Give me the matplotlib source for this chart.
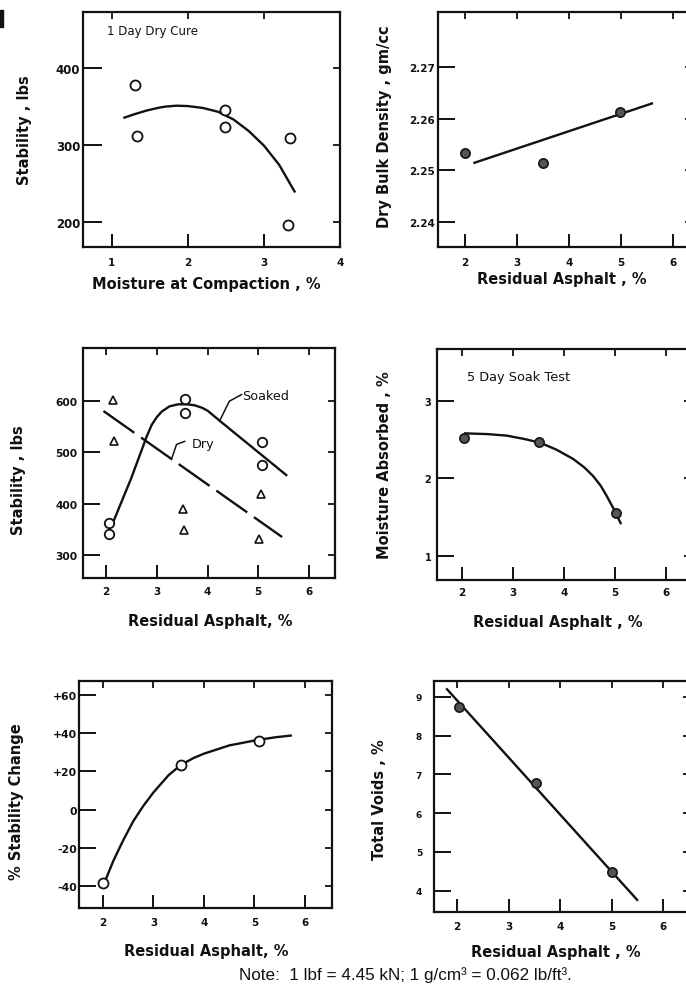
import matplotlib
matplotlib.use("Agg")
import matplotlib.pyplot as plt
from matplotlib.patches import Rectangle

plt.rcParams['font.family'] = ['DejaVu Sans']

W, H = 686, 987

# ---------------- data ----------------
# Panel 1: 1 Day Dry Cure
p1_x = [1.30, 1.33, 2.49, 2.49, 3.34, 3.32]
p1_y = [378, 311, 346, 323, 309, 196]
p1_cx = [1.15, 1.3, 1.45, 1.6, 1.7, 1.85, 2.0, 2.2, 2.4, 2.6, 2.8, 3.0, 3.2, 3.41]
p1_cy = [335, 340, 344.5, 348, 349.8, 351, 350.5, 348, 343, 333, 318, 299, 274, 238]
p1_xticks = [1, 2, 3, 4]
p1_yticks = [200, 300, 400]

# Panel 2: dry bulk density
p2_x = [2.0, 3.51, 4.98]
p2_y = [2.2534, 2.2515, 2.2613]
p2_lx = [2.16, 5.62]
p2_ly = [2.2514, 2.2630]
p2_xticks = [2, 3, 4, 5, 6]
p2_yticks = [2.24, 2.25, 2.26, 2.27]
p2_ylabels = ['2.24', '2.25', '2.26', '2.27']

# Panel 3: stability soaked / dry
p3_soak_x = [2.05, 2.05, 3.56, 3.56, 5.08, 5.08]
p3_soak_y = [362, 341, 603, 576, 520, 475]
p3_dry_x = [2.14, 2.16, 3.52, 3.53, 5.05, 5.02]
p3_dry_y = [601, 522, 389, 349, 418, 331]
p3_soak_cx = [2.1, 2.5, 2.8, 2.9, 3.0, 3.1, 3.25, 3.42, 3.6, 3.75, 3.9, 4.01, 4.24, 5.57]
p3_soak_cy = [354, 450, 530, 553, 568, 579, 589, 593, 593, 591, 586, 580, 561, 454]
p3_dry_lx = [1.95, 5.47]
p3_dry_ly = [580, 335]
p3_xticks = [2, 3, 4, 5, 6]
p3_yticks = [300, 400, 500, 600]

# Panel 4: moisture absorbed
p4_x = [2.03, 3.51, 5.02]
p4_y = [2.52, 2.47, 1.55]
p4_cx = [2.04, 2.5, 2.88, 3.2, 3.53, 3.85, 4.18, 4.4, 4.57, 4.72, 4.84, 4.98, 5.12]
p4_cy = [2.58, 2.57, 2.55, 2.51, 2.46, 2.37, 2.25, 2.14, 2.03, 1.905, 1.77, 1.60, 1.41]
p4_xticks = [2, 3, 4, 5, 6]
p4_yticks = [1, 2, 3]

# Panel 5: % stability change
p5_x = [2.0, 3.54, 5.08]
p5_y = [-38, 23.2, 36]
p5_cx = [2.0, 2.2, 2.4, 2.6, 2.8, 3.0, 3.3, 3.55, 3.8, 4.0, 4.5, 5.05, 5.4, 5.74]
p5_cy = [-40, -27, -16, -6, 2, 9, 18, 23.5, 27, 29.2, 33.5, 36.3, 37.7, 38.7]
p5_xticks = [2, 3, 4, 5, 6]
p5_yticks = [-40, -20, 0, 20, 40, 60]
p5_ylabels = ['-40', '-20', '0', '+20', '+40', '+60']

# Panel 6: total voids
p6_x = [2.04, 3.53, 5.0]
p6_y = [8.73, 6.78, 4.49]
p6_lx = [1.79, 5.51]
p6_ly = [9.22, 3.74]
p6_xticks = [2, 3, 4, 5, 6]
p6_yticks = [4, 5, 6, 7, 8, 9]

LABEL_FS = 10.5
INK = '#111111'

fig = plt.figure(figsize=(W / 100, H / 100), dpi=100)
fig.patch.set_facecolor('white')


def make_ax(l, t, r, b, xlim, ylim, xticks, yticks, ylabels=None,
            ytick_fs=8, xtick_fs=7.5, ypad=2, xpad=6, ylen=12):
    ax = fig.add_axes([l / W, 1 - b / H, (r - l) / W, (b - t) / H])
    ax.set_xlim(*xlim)
    ax.set_ylim(*ylim)
    ax.set_xticks(xticks)
    ax.set_yticks(yticks)
    if ylabels is not None:
        ax.set_yticklabels(ylabels)
    for s in ax.spines.values():
        s.set_linewidth(1.6)
        s.set_color(INK)
    ax.tick_params(axis='y', direction='in', length=ylen, width=1.4,
                   left=True, right=False, pad=ypad, labelsize=ytick_fs,
                   colors=INK)
    ax.tick_params(axis='x', direction='in', length=9.5, width=1.4,
                   bottom=True, top=False, pad=xpad, labelsize=xtick_fs,
                   colors=INK)
    for lab in ax.get_xticklabels() + ax.get_yticklabels():
        lab.set_fontweight('bold')
    sx = ax.secondary_xaxis('top')
    sx.set_xticks(xticks)
    sx.tick_params(direction='in', length=5, width=1.3, labeltop=False,
                   colors=INK)
    sx.spines['top'].set_visible(False)
    sy = ax.secondary_yaxis('right')
    sy.set_yticks(yticks)
    sy.tick_params(direction='in', length=5, width=1.3, labelright=False,
                   colors=INK)
    sy.spines['right'].set_visible(False)
    return ax


def labels(ax, xl, xc, yl, yc):
    ax.set_xlabel(xl, fontsize=LABEL_FS, fontweight='bold', va='center',
                  color=INK)
    ax.xaxis.set_label_coords(xc[0] / W, 1 - xc[1] / H,
                              transform=fig.transFigure)
    ax.set_ylabel(yl, fontsize=LABEL_FS, fontweight='bold', va='center',
                  color=INK)
    ax.yaxis.set_label_coords(yc[0] / W, 1 - yc[1] / H,
                              transform=fig.transFigure)


open_kw = dict(linestyle='none', marker='o', markersize=7.2,
               markerfacecolor='white', markeredgecolor=INK,
               markeredgewidth=1.3, zorder=3)
fill_kw = dict(linestyle='none', marker='o', markersize=6.6,
               markerfacecolor='#555555', markeredgecolor='#1a1a1a',
               markeredgewidth=1.3, zorder=3)
curve_kw = dict(color=INK, linewidth=1.7, solid_capstyle='butt',
                solid_joinstyle='round', zorder=2)

# ---- Panel 1 ----
ax1 = make_ax(83, 13, 340, 248, (0.62, 4.0), (167, 473), p1_xticks, p1_yticks,
              ytick_fs=8.5, ypad=2, xpad=7, ylen=14)
ax1.plot(p1_cx, p1_cy, **curve_kw)
ax1.plot(p1_x, p1_y, **open_kw)
ax1.text(107 / W, 1 - 32 / H, '1 Day Dry Cure', transform=fig.transFigure,
         fontsize=8.5, va='center', ha='left', color=INK)
labels(ax1, 'Moisture at Compaction , %', (206, 285), 'Stability , lbs', (25, 130))

# ---- Panel 2 ----
ax2 = make_ax(438, 13, 692, 248, (1.48, 6.37), (2.2352, 2.2806), p2_xticks,
              p2_yticks, ylabels=p2_ylabels, ytick_fs=7.5, ypad=2, xpad=7)
ax2.plot(p2_lx, p2_ly, **curve_kw)
ax2.plot(p2_x, p2_y, **fill_kw)
labels(ax2, 'Residual Asphalt , %', (562, 280), 'Dry Bulk Density , gm/cc', (385, 127))

# ---- Panel 3 ----
ax3 = make_ax(83, 349, 335, 579, (1.547, 6.512), (255.3, 702.5), p3_xticks,
              p3_yticks, ytick_fs=7.7, ypad=4, xpad=5.5)
ax3.plot(p3_soak_cx, p3_soak_cy, **curve_kw)
ax3.plot(p3_dry_lx, p3_dry_ly, color=INK, linewidth=1.7,
         linestyle=(0, (16, 3.5)), zorder=2)
ax3.plot(p3_soak_x, p3_soak_y, **dict(open_kw, markersize=6.8))
ax3.plot(p3_dry_x, p3_dry_y, linestyle='none', marker='^', markersize=6.2,
         markerfacecolor='white', markeredgecolor=INK, markeredgewidth=1.2,
         zorder=3)
# leader lines and labels
ax3.plot([4.24, 4.43, 4.67], [561, 599, 612], color=INK, linewidth=1.1)
ax3.text(4.69, 610, 'Soaked', fontsize=9.2, va='center', ha='left', color=INK)
ax3.plot([3.29, 3.39, 3.55], [486, 515, 521], color=INK, linewidth=1.1)
ax3.text(3.68, 516, 'Dry', fontsize=9.2, va='center', ha='left', color=INK)
labels(ax3, 'Residual Asphalt, %', (210, 622), 'Stability , lbs', (19, 480))

# ---- Panel 4 ----
ax4 = make_ax(437, 350, 691, 581, (1.51, 6.49), (0.691, 3.666), p4_xticks,
              p4_yticks, ytick_fs=7, ypad=4, xpad=5)
ax4.plot(p4_cx, p4_cy, **curve_kw)
ax4.plot(p4_x, p4_y, **fill_kw)
ax4.text(467 / W, 1 - 378 / H, '5 Day Soak Test', transform=fig.transFigure,
         fontsize=9.3, va='center', ha='left', color=INK)
labels(ax4, 'Residual Asphalt , %', (558, 623), 'Moisture Absorbed , %', (385, 465))

# ---- Panel 5 ----
ax5 = make_ax(79, 682, 332, 909, (1.525, 6.535), (-51.3, 67.1), p5_xticks,
              p5_yticks, ylabels=p5_ylabels, ytick_fs=7.8, ypad=1.5, xpad=6.5)
ax5.plot(p5_cx, p5_cy, **curve_kw)
ax5.plot(p5_x, p5_y, **open_kw)
labels(ax5, 'Residual Asphalt, %', (206, 952), '% Stability Change', (17, 802))

# ---- Panel 6 ----
ax6 = make_ax(434, 682, 690, 913, (1.553, 6.52), (3.45, 9.41), p6_xticks,
              p6_yticks, ytick_fs=6.5, ypad=8.5, xpad=6.5)
ax6.plot(p6_x, p6_y, **fill_kw)
ax6.plot(p6_lx, p6_ly, **curve_kw)
labels(ax6, 'Residual Asphalt , %', (556, 953), 'Total Voids , %', (379, 800))

# Note
fig.text(405 / W, 1 - 975 / H,
         'Note:  1 lbf = 4.45 kN; 1 g/cm\u00b3 = 0.062 lb/ft\u00b3.',
         fontsize=12.3, family=['Liberation Sans', 'DejaVu Sans'],
         ha='center', va='center', color=INK)

# scan artefact at the top-left edge
fig.patches.append(Rectangle((0, 1 - 28 / H), 3 / W, 17 / H,
                             transform=fig.transFigure, color=INK))

fig.savefig('out.png', dpi=100, facecolor='white')
